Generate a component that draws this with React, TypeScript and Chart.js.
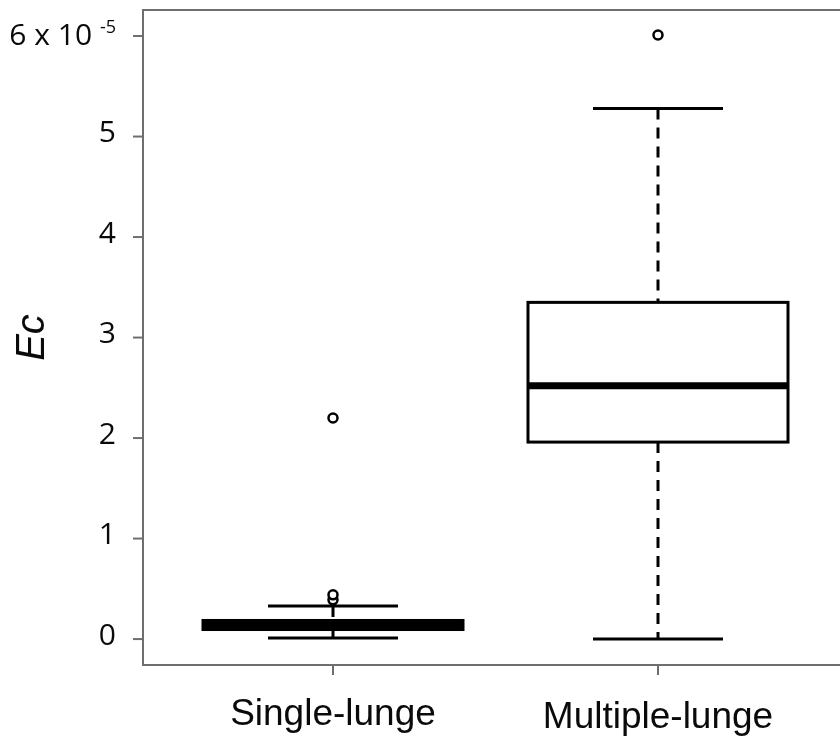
import React, { useEffect, useRef } from "react";
import { Chart, registerables } from "chart.js";

Chart.register(...registerables);

// Group names and box-plot statistics (units of 10^-5)
const categories = ["Single-lunge", "Multiple-lunge"];
const whiskerLow = [0.01, 0.0];
const q1 = [0.095, 1.96];
const median = [0.14, 2.52];
const q3 = [0.185, 3.35];
const whiskerHigh = [0.33, 5.28];
const outliers = [[0.39, 0.44, 2.2], [6.01]];

// Y-axis tick values; the top one carries the exponent
const yTicks = [0, 1, 2, 3, 4, 5, 6];
const yTopExponent = "-5";
const yTitle = "Ec";

const BOX_HALF = 0.4;
const CAP_HALF = 0.2;
const FRAME = "#6e6e6e";
const INK = "#000000";
const TEXT = "#0a0a0a";

const boxPlotPlugin = {
  id: "boxPlot",
  beforeDatasetsDraw(chart: any) {
    const { ctx, scales } = chart;
    const xs = scales.x;
    const ys = scales.y;
    ctx.save();
    ctx.strokeStyle = INK;
    ctx.lineCap = "butt";
    categories.forEach((_, i) => {
      const c = i + 1;
      const xc = xs.getPixelForValue(c);
      const xl = xs.getPixelForValue(c - BOX_HALF);
      const xr = xs.getPixelForValue(c + BOX_HALF);
      const cl = xs.getPixelForValue(c - CAP_HALF);
      const cr = xs.getPixelForValue(c + CAP_HALF);
      const yQ1 = ys.getPixelForValue(q1[i]);
      const yQ3 = ys.getPixelForValue(q3[i]);
      const yMed = ys.getPixelForValue(median[i]);
      const yLo = ys.getPixelForValue(whiskerLow[i]);
      const yHi = ys.getPixelForValue(whiskerHigh[i]);

      // dashed whisker stems
      ctx.lineWidth = 3;
      ctx.setLineDash([11, 8]);
      ctx.beginPath();
      ctx.moveTo(xc, yHi);
      ctx.lineTo(xc, yQ3);
      ctx.moveTo(xc, yQ1);
      ctx.lineTo(xc, yLo);
      ctx.stroke();
      ctx.setLineDash([]);

      // whisker caps
      ctx.beginPath();
      ctx.moveTo(cl, yHi);
      ctx.lineTo(cr, yHi);
      ctx.moveTo(cl, yLo);
      ctx.lineTo(cr, yLo);
      ctx.stroke();

      // box
      ctx.fillStyle = "#ffffff";
      ctx.fillRect(xl, yQ3, xr - xl, yQ1 - yQ3);
      ctx.lineWidth = 3;
      ctx.strokeRect(xl, yQ3, xr - xl, yQ1 - yQ3);

      // median
      ctx.lineWidth = 7;
      ctx.beginPath();
      ctx.moveTo(xl, yMed);
      ctx.lineTo(xr, yMed);
      ctx.stroke();
    });
    ctx.restore();
  },
  afterDraw(chart: any) {
    const { ctx, scales, chartArea } = chart;
    const xs = scales.x;
    const ys = scales.y;
    const { left, top, bottom, right } = chartArea;
    ctx.save();

    // frame: left, top, bottom
    ctx.strokeStyle = FRAME;
    ctx.lineWidth = 2;
    ctx.beginPath();
    ctx.moveTo(right + 2, top);
    ctx.lineTo(left, top);
    ctx.lineTo(left, bottom);
    ctx.lineTo(right + 2, bottom);
    ctx.stroke();

    // y ticks and labels
    ctx.fillStyle = TEXT;
    ctx.textBaseline = "middle";
    ctx.textAlign = "right";
    const labelRight = left - 27;
    yTicks.forEach((v, i) => {
      const y = ys.getPixelForValue(v);
      ctx.beginPath();
      ctx.moveTo(left - 10, y);
      ctx.lineTo(left, y);
      ctx.stroke();
      if (i === yTicks.length - 1) {
        ctx.font = "18px 'Open Sans'";
        const supW = ctx.measureText(yTopExponent).width;
        ctx.fillText(yTopExponent, labelRight, y - 8);
        ctx.font = "30px 'Open Sans'";
        ctx.fillText(`${v} x 10 `, labelRight - supW, y);
      } else {
        ctx.font = "30px 'Open Sans'";
        ctx.fillText(String(v), labelRight, y - 3);
      }
    });

    // x ticks and category labels
    categories.forEach((name, i) => {
      const x = xs.getPixelForValue(i + 1);
      ctx.beginPath();
      ctx.moveTo(x, bottom);
      ctx.lineTo(x, bottom + 10);
      ctx.stroke();
      ctx.font = "37px 'Liberation Sans'";
      ctx.textAlign = "center";
      ctx.textBaseline = "alphabetic";
      ctx.fillText(name, x, bottom + 60 + i * 3);
    });

    // y-axis title
    ctx.save();
    ctx.translate(33, (top + bottom) / 2);
    ctx.rotate(-Math.PI / 2);
    ctx.font = "italic 40px 'Liberation Sans'";
    ctx.textAlign = "center";
    ctx.textBaseline = "middle";
    ctx.fillText(yTitle, 0, 0);
    ctx.restore();

    ctx.restore();
  },
};

export default function App() {
  const canvasRef = useRef<HTMLCanvasElement | null>(null);

  useEffect(() => {
    if (!canvasRef.current) return;
    const points = outliers.flatMap((vals, i) => vals.map((v) => ({ x: i + 1, y: v })));
    const chart = new Chart(canvasRef.current, {
      type: "scatter",
      data: {
        datasets: [
          {
            label: "Outliers",
            data: points,
            pointStyle: "circle",
            pointRadius: 4.5,
            pointBorderWidth: 2.5,
            pointBorderColor: INK,
            pointBackgroundColor: "#ffffff",
          },
        ],
      },
      options: {
        responsive: false,
        animation: false,
        devicePixelRatio: 1,
        layout: { autoPadding: false, padding: { left: 143, top: 10, right: 0, bottom: 75 } },
        plugins: {
          legend: { display: false },
          tooltip: { enabled: false },
        },
        scales: {
          x: { type: "linear", min: 0.4154, max: 2.56, display: false },
          y: { type: "linear", min: -0.258, max: 6.259, display: false },
        },
      },
      plugins: [boxPlotPlugin],
    });
    return () => chart.destroy();
  }, []);

  return (
    <div style={{ position: "absolute", left: 0, top: 0, width: 840, height: 740, background: "#fff" }}>
      <canvas ref={canvasRef} width={840} height={740} />
    </div>
  );
}
